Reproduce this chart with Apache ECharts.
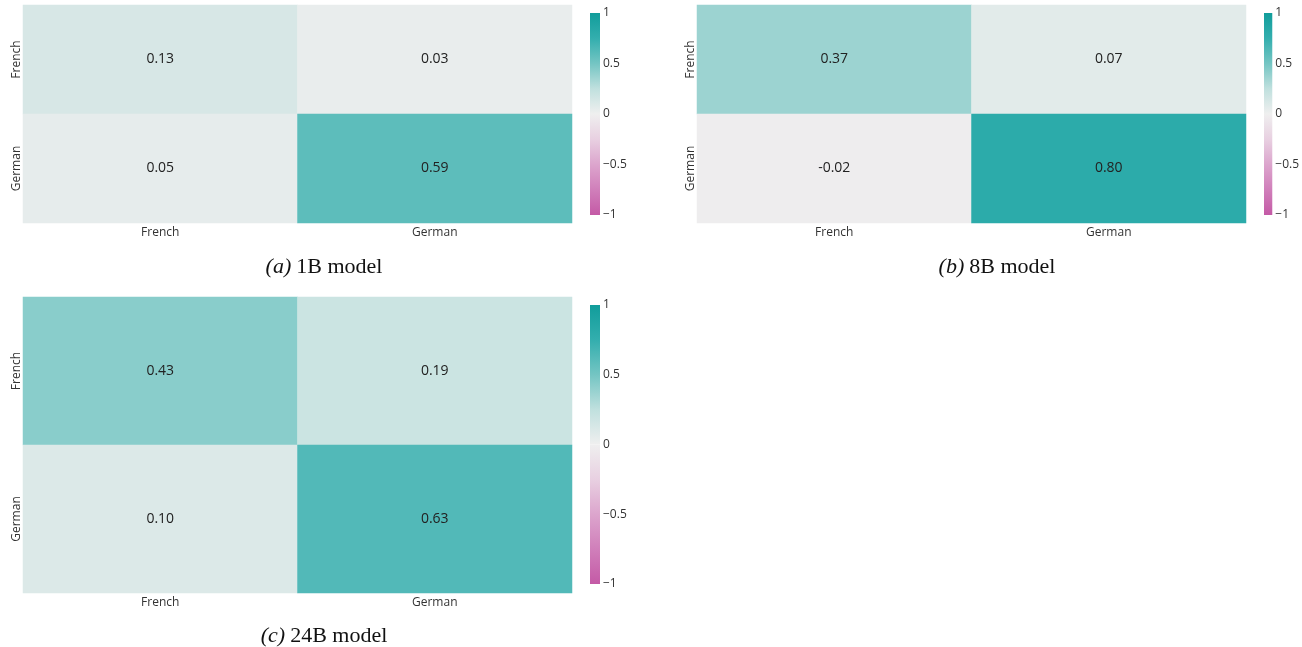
<!DOCTYPE html>
<html>
<head>
<meta charset="utf-8">
<script src="https://cdn.jsdelivr.net/npm/echarts@6/dist/echarts.min.js"></script>
<style>
  html, body { margin: 0; padding: 0; background: #fff; }
  #chart { width: 1302px; height: 647px; }
</style>
</head>
<body>
<div id="chart"></div>
<script>
// Languages on both axes
const languages = ['French', 'German'];

// Correlation matrices, rows = y language (French, German), cols = x language
const model1B = [[0.13, 0.03], [0.05, 0.59]];
const model8B = [[0.37, 0.07], [-0.02, 0.80]];
const model24B = [[0.43, 0.19], [0.10, 0.63]];

// Colour bar ticks
const barTicks = [-1, -0.5, 0, 0.5, 1];

// Captions under each panel
const captions = [['(a)', '1B model'], ['(b)', '8B model'], ['(c)', '24B model']];

// Diverging palette from -1 (magenta) through 0 (near white) to 1 (teal)
const palette = ['#c45aa6', '#d07fba', '#dca5cd', '#e8d0e1', '#efefef',
                 '#c0e0de', '#74c5c3', '#33aeae', '#119d9b'];

const labelFont = '"Open Sans", "DejaVu Sans", sans-serif';

const panels = [
  { matrix: model1B, grid: { left: 23, top: 5, width: 549, height: 218 },
    bar: { left: 590, top: 13, width: 10, height: 202 }, caption: { x: 319, y: 251 } },
  { matrix: model8B, grid: { left: 697, top: 5, width: 549, height: 218 },
    bar: { left: 1264, top: 13, width: 10, height: 202 }, caption: { x: 992, y: 251 } },
  { matrix: model24B, grid: { left: 23, top: 297, width: 549, height: 296 },
    bar: { left: 590, top: 305, width: 10, height: 279 }, caption: { x: 319, y: 620 } }
];

const grids = [], xAxes = [], yAxes = [], series = [], titles = [], visualMaps = [];

const posStops = palette.slice(4).reverse().map((c, i, a) => ({ offset: i / (a.length - 1), color: c }));
const negStops = palette.slice(0, 5).reverse().map((c, i, a) => ({ offset: i / (a.length - 1), color: c }));

panels.forEach((p, k) => {
  // heatmap grid
  const gi = grids.length;
  grids.push(Object.assign({ containLabel: false }, p.grid));
  xAxes.push({
    gridIndex: gi, type: 'category', data: languages,
    axisLine: { show: false }, axisTick: { show: false }, splitLine: { show: false },
    axisLabel: { fontSize: 12, color: '#333', fontFamily: labelFont, margin: 4 }
  });
  yAxes.push({
    gridIndex: gi, type: 'category', data: languages, inverse: true,
    axisLine: { show: false }, axisTick: { show: false }, splitLine: { show: false },
    axisLabel: { fontSize: 12, color: '#333', fontFamily: labelFont, rotate: 90, margin: 0 }
  });
  const data = [];
  p.matrix.forEach((row, r) => row.forEach((v, c) => data.push([c, r, v])));
  const si = series.length;
  series.push({
    type: 'heatmap', xAxisIndex: xAxes.length - 1, yAxisIndex: yAxes.length - 1,
    data: data,
    label: {
      show: true, fontSize: 14, color: '#222', fontFamily: labelFont,
      formatter: (d) => d.value[2].toFixed(2)
    },
    itemStyle: { borderWidth: 0 },
    emphasis: { disabled: true }
  });
  visualMaps.push({
    show: false, type: 'continuous', min: -1, max: 1, seriesIndex: si,
    inRange: { color: palette }
  });

  // colour bar grid
  const bi = grids.length;
  grids.push(Object.assign({ containLabel: false }, p.bar));
  xAxes.push({ gridIndex: bi, type: 'category', data: ['bar'], show: false });
  yAxes.push({
    gridIndex: bi, type: 'value', min: -1, max: 1, interval: 0.5, position: 'right',
    axisLine: { show: false }, axisTick: { show: false }, splitLine: { show: false },
    axisLabel: {
      fontSize: 12, color: '#333', fontFamily: labelFont, margin: 3,
      formatter: (v) => String(v).replace('-', '\u2212')
    }
  });
  series.push({
    type: 'bar', xAxisIndex: xAxes.length - 1, yAxisIndex: yAxes.length - 1,
    data: [barTicks[barTicks.length - 1]], barWidth: '100%', barGap: '-100%',
    itemStyle: { color: new echarts.graphic.LinearGradient(0, 0, 0, 1, posStops) },
    emphasis: { disabled: true }, silent: true
  });
  series.push({
    type: 'bar', xAxisIndex: xAxes.length - 1, yAxisIndex: yAxes.length - 1,
    data: [barTicks[0]], barWidth: '100%', barGap: '-100%',
    itemStyle: { color: new echarts.graphic.LinearGradient(0, 0, 0, 1, negStops) },
    emphasis: { disabled: true }, silent: true
  });

  // caption
  titles.push({
    text: '{i|' + captions[k][0] + '} {n|' + captions[k][1] + '}',
    left: p.caption.x, top: p.caption.y, textAlign: 'center',
    textStyle: {
      fontWeight: 'normal',
      rich: {
        i: { fontFamily: '"Liberation Serif", serif', fontStyle: 'italic', fontWeight: 'normal', fontSize: 22, color: '#111' },
        n: { fontFamily: '"Liberation Serif", serif', fontWeight: 'normal', fontSize: 22, color: '#111' }
      }
    }
  });
});

const chart = echarts.init(document.getElementById('chart'), null, { renderer: 'canvas' });
chart.setOption({
  animation: false,
  backgroundColor: '#fff',
  title: titles,
  grid: grids,
  xAxis: xAxes,
  yAxis: yAxes,
  visualMap: visualMaps,
  series: series
});
</script>
</body>
</html>
